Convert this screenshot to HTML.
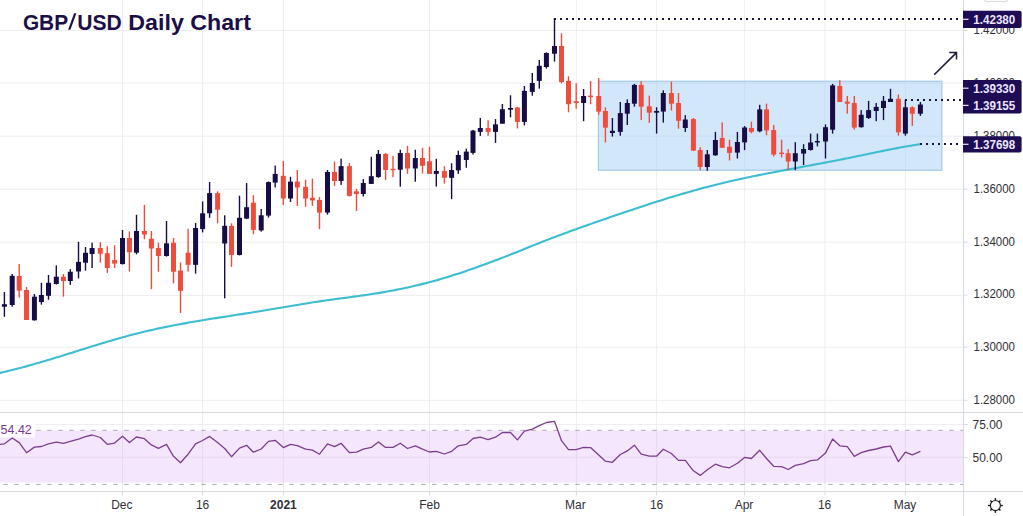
<!DOCTYPE html>
<html><head><meta charset="utf-8"><style>
html,body{margin:0;padding:0;background:#fff;width:1023px;height:516px;overflow:hidden;position:relative}
</style></head><body>
<svg width="1023" height="516" viewBox="0 0 1023 516" style="position:absolute;left:0;top:0">
<line x1="0" y1="30.5" x2="963.5" y2="30.5" stroke="#eeeef2" stroke-width="1"/>
<line x1="0" y1="83.1" x2="963.5" y2="83.1" stroke="#eeeef2" stroke-width="1"/>
<line x1="0" y1="136.2" x2="963.5" y2="136.2" stroke="#eeeef2" stroke-width="1"/>
<line x1="0" y1="189.2" x2="963.5" y2="189.2" stroke="#eeeef2" stroke-width="1"/>
<line x1="0" y1="242.2" x2="963.5" y2="242.2" stroke="#eeeef2" stroke-width="1"/>
<line x1="0" y1="295.4" x2="963.5" y2="295.4" stroke="#eeeef2" stroke-width="1"/>
<line x1="0" y1="347.2" x2="963.5" y2="347.2" stroke="#eeeef2" stroke-width="1"/>
<line x1="0" y1="400.3" x2="963.5" y2="400.3" stroke="#eeeef2" stroke-width="1"/>
<line x1="122.5" y1="0" x2="122.5" y2="491.5" stroke="#eeeef2" stroke-width="1"/>
<line x1="202.6" y1="0" x2="202.6" y2="491.5" stroke="#eeeef2" stroke-width="1"/>
<line x1="283.4" y1="0" x2="283.4" y2="491.5" stroke="#eeeef2" stroke-width="1"/>
<line x1="429.5" y1="0" x2="429.5" y2="491.5" stroke="#eeeef2" stroke-width="1"/>
<line x1="576.4" y1="0" x2="576.4" y2="491.5" stroke="#eeeef2" stroke-width="1"/>
<line x1="656.6" y1="0" x2="656.6" y2="491.5" stroke="#eeeef2" stroke-width="1"/>
<line x1="744.6" y1="0" x2="744.6" y2="491.5" stroke="#eeeef2" stroke-width="1"/>
<line x1="825.0" y1="0" x2="825.0" y2="491.5" stroke="#eeeef2" stroke-width="1"/>
<line x1="905.4" y1="0" x2="905.4" y2="491.5" stroke="#eeeef2" stroke-width="1"/>
<rect x="598.3" y="81.2" width="343.6" height="89" fill="#d3e7fb" stroke="#94c3e6" stroke-width="1"/>
<line x1="598.8" y1="83.1" x2="941.5" y2="83.1" stroke="#c8def4" stroke-width="1"/>
<line x1="598.8" y1="136.2" x2="941.5" y2="136.2" stroke="#c8def4" stroke-width="1"/>
<line x1="656.6" y1="81.7" x2="656.6" y2="169.7" stroke="#c8def4" stroke-width="1"/>
<line x1="744.6" y1="81.7" x2="744.6" y2="169.7" stroke="#c8def4" stroke-width="1"/>
<line x1="825.0" y1="81.7" x2="825.0" y2="169.7" stroke="#c8def4" stroke-width="1"/>
<line x1="905.4" y1="81.7" x2="905.4" y2="169.7" stroke="#c8def4" stroke-width="1"/>
<polyline points="0.0,372.87 3.0,372.19 6.0,371.50 9.0,370.78 12.0,370.05 15.0,369.29 18.0,368.52 21.0,367.74 24.0,366.94 27.0,366.12 30.0,365.29 33.0,364.44 36.0,363.59 39.0,362.72 42.0,361.84 45.0,360.95 48.0,360.05 51.0,359.15 54.0,358.24 57.0,357.32 60.0,356.40 63.0,355.47 66.0,354.53 69.0,353.60 72.0,352.66 75.0,351.72 78.0,350.79 81.0,349.85 84.0,348.91 87.0,347.98 90.0,347.05 93.0,346.12 96.0,345.20 99.0,344.28 102.0,343.37 105.0,342.47 108.0,341.57 111.0,340.69 114.0,339.81 117.0,338.95 120.0,338.09 123.0,337.25 126.0,336.42 129.0,335.61 132.0,334.81 135.0,334.03 138.0,333.26 141.0,332.51 144.0,331.78 147.0,331.07 150.0,330.37 153.0,329.69 156.0,329.03 159.0,328.38 162.0,327.74 165.0,327.12 168.0,326.52 171.0,325.92 174.0,325.34 177.0,324.76 180.0,324.20 183.0,323.65 186.0,323.11 189.0,322.58 192.0,322.05 195.0,321.54 198.0,321.03 201.0,320.53 204.0,320.03 207.0,319.54 210.0,319.06 213.0,318.58 216.0,318.10 219.0,317.63 222.0,317.16 225.0,316.69 228.0,316.22 231.0,315.75 234.0,315.29 237.0,314.82 240.0,314.35 243.0,313.89 246.0,313.41 249.0,312.94 252.0,312.46 255.0,311.98 258.0,311.50 261.0,311.01 264.0,310.51 267.0,310.01 270.0,309.51 273.0,309.00 276.0,308.49 279.0,307.98 282.0,307.47 285.0,306.97 288.0,306.46 291.0,305.95 294.0,305.45 297.0,304.95 300.0,304.45 303.0,303.96 306.0,303.47 309.0,302.99 312.0,302.52 315.0,302.06 318.0,301.61 321.0,301.16 324.0,300.73 327.0,300.30 330.0,299.88 333.0,299.47 336.0,299.06 339.0,298.66 342.0,298.25 345.0,297.85 348.0,297.45 351.0,297.04 354.0,296.64 357.0,296.22 360.0,295.80 363.0,295.38 366.0,294.95 369.0,294.50 372.0,294.05 375.0,293.58 378.0,293.10 381.0,292.61 384.0,292.10 387.0,291.57 390.0,291.03 393.0,290.47 396.0,289.89 399.0,289.30 402.0,288.68 405.0,288.05 408.0,287.41 411.0,286.74 414.0,286.05 417.0,285.35 420.0,284.63 423.0,283.88 426.0,283.12 429.0,282.34 432.0,281.54 435.0,280.71 438.0,279.87 441.0,279.00 444.0,278.11 447.0,277.21 450.0,276.28 453.0,275.33 456.0,274.37 459.0,273.39 462.0,272.39 465.0,271.38 468.0,270.35 471.0,269.31 474.0,268.25 477.0,267.19 480.0,266.11 483.0,265.02 486.0,263.92 489.0,262.81 492.0,261.70 495.0,260.57 498.0,259.43 501.0,258.28 504.0,257.12 507.0,255.96 510.0,254.78 513.0,253.60 516.0,252.41 519.0,251.20 522.0,250.00 525.0,248.78 528.0,247.56 531.0,246.34 534.0,245.13 537.0,243.92 540.0,242.72 543.0,241.54 546.0,240.36 549.0,239.20 552.0,238.05 555.0,236.91 558.0,235.78 561.0,234.66 564.0,233.55 567.0,232.45 570.0,231.35 573.0,230.27 576.0,229.19 579.0,228.11 582.0,227.05 585.0,225.98 588.0,224.93 591.0,223.87 594.0,222.82 597.0,221.78 600.0,220.73 603.0,219.69 606.0,218.65 609.0,217.61 612.0,216.58 615.0,215.55 618.0,214.52 621.0,213.50 624.0,212.48 627.0,211.46 630.0,210.45 633.0,209.44 636.0,208.44 639.0,207.45 642.0,206.46 645.0,205.48 648.0,204.50 651.0,203.53 654.0,202.56 657.0,201.61 660.0,200.66 663.0,199.72 666.0,198.78 669.0,197.86 672.0,196.94 675.0,196.03 678.0,195.14 681.0,194.25 684.0,193.37 687.0,192.50 690.0,191.64 693.0,190.79 696.0,189.95 699.0,189.13 702.0,188.31 705.0,187.51 708.0,186.72 711.0,185.94 714.0,185.17 717.0,184.42 720.0,183.68 723.0,182.95 726.0,182.24 729.0,181.54 732.0,180.85 735.0,180.17 738.0,179.50 741.0,178.85 744.0,178.20 747.0,177.56 750.0,176.93 753.0,176.31 756.0,175.70 759.0,175.10 762.0,174.50 765.0,173.91 768.0,173.32 771.0,172.74 774.0,172.17 777.0,171.60 780.0,171.03 783.0,170.47 786.0,169.90 789.0,169.35 792.0,168.79 795.0,168.23 798.0,167.68 801.0,167.13 804.0,166.57 807.0,166.02 810.0,165.46 813.0,164.90 816.0,164.34 819.0,163.78 822.0,163.22 825.0,162.65 828.0,162.07 831.0,161.50 834.0,160.91 837.0,160.32 840.0,159.73 843.0,159.13 846.0,158.52 849.0,157.91 852.0,157.29 855.0,156.67 858.0,156.05 861.0,155.43 864.0,154.80 867.0,154.18 870.0,153.56 873.0,152.94 876.0,152.32 879.0,151.71 882.0,151.10 885.0,150.49 888.0,149.90 891.0,149.31 894.0,148.73 897.0,148.15 900.0,147.59 903.0,147.04 906.0,146.50 909.0,145.97 912.0,145.45 915.0,144.95 918.0,144.47 920.3,144.10" fill="none" stroke="#3dbdd0" stroke-width="2.1" stroke-linejoin="round" stroke-linecap="round"/>
<rect x="3.70" y="292.0" width="1.4" height="24.80" fill="#170c45"/>
<rect x="1.90" y="304.2" width="5" height="2.50" fill="#170c45"/>
<rect x="11.50" y="274.0" width="1.4" height="32.70" fill="#170c45"/>
<rect x="9.70" y="275.8" width="5" height="29.20" fill="#170c45"/>
<rect x="18.50" y="264.0" width="1.4" height="33.60" fill="#ef4d3b"/>
<rect x="16.70" y="276.0" width="5" height="14.60" fill="#ef4d3b"/>
<rect x="25.80" y="287.0" width="1.4" height="33.00" fill="#ef4d3b"/>
<rect x="24.00" y="290.0" width="5" height="30.00" fill="#ef4d3b"/>
<rect x="33.70" y="294.0" width="1.4" height="26.60" fill="#170c45"/>
<rect x="31.90" y="296.7" width="5" height="23.60" fill="#170c45"/>
<rect x="40.70" y="282.8" width="1.4" height="21.80" fill="#170c45"/>
<rect x="38.90" y="295.0" width="5" height="7.00" fill="#170c45"/>
<rect x="47.80" y="275.0" width="1.4" height="24.70" fill="#170c45"/>
<rect x="46.00" y="282.8" width="5" height="13.00" fill="#170c45"/>
<rect x="55.60" y="265.4" width="1.4" height="19.10" fill="#170c45"/>
<rect x="53.80" y="276.7" width="5" height="7.30" fill="#170c45"/>
<rect x="62.70" y="274.0" width="1.4" height="22.70" fill="#ef4d3b"/>
<rect x="60.90" y="276.7" width="5" height="4.30" fill="#ef4d3b"/>
<rect x="69.60" y="269.2" width="1.4" height="15.70" fill="#170c45"/>
<rect x="67.80" y="271.8" width="5" height="9.20" fill="#170c45"/>
<rect x="77.80" y="241.8" width="1.4" height="36.60" fill="#170c45"/>
<rect x="76.00" y="261.9" width="5" height="9.60" fill="#170c45"/>
<rect x="84.80" y="247.0" width="1.4" height="23.60" fill="#170c45"/>
<rect x="83.00" y="252.8" width="5" height="9.90" fill="#170c45"/>
<rect x="91.40" y="242.7" width="1.4" height="25.30" fill="#170c45"/>
<rect x="89.60" y="248.0" width="5" height="6.00" fill="#170c45"/>
<rect x="99.60" y="242.2" width="1.4" height="20.50" fill="#ef4d3b"/>
<rect x="97.80" y="248.0" width="5" height="5.70" fill="#ef4d3b"/>
<rect x="106.60" y="246.2" width="1.4" height="26.70" fill="#ef4d3b"/>
<rect x="104.80" y="253.2" width="5" height="14.80" fill="#ef4d3b"/>
<rect x="113.90" y="245.3" width="1.4" height="22.70" fill="#ef4d3b"/>
<rect x="112.10" y="260.1" width="5" height="3.50" fill="#ef4d3b"/>
<rect x="121.80" y="230.0" width="1.4" height="34.50" fill="#170c45"/>
<rect x="120.00" y="238.0" width="5" height="26.10" fill="#170c45"/>
<rect x="128.70" y="231.4" width="1.4" height="40.10" fill="#ef4d3b"/>
<rect x="126.90" y="238.0" width="5" height="14.30" fill="#ef4d3b"/>
<rect x="135.80" y="214.8" width="1.4" height="39.50" fill="#170c45"/>
<rect x="134.00" y="231.0" width="5" height="21.70" fill="#170c45"/>
<rect x="143.70" y="204.8" width="1.4" height="34.40" fill="#ef4d3b"/>
<rect x="141.90" y="231.0" width="5" height="3.50" fill="#ef4d3b"/>
<rect x="150.70" y="231.0" width="1.4" height="58.20" fill="#ef4d3b"/>
<rect x="148.90" y="238.7" width="5" height="9.80" fill="#ef4d3b"/>
<rect x="157.70" y="242.7" width="1.4" height="29.00" fill="#ef4d3b"/>
<rect x="155.90" y="248.0" width="5" height="8.00" fill="#ef4d3b"/>
<rect x="165.80" y="221.0" width="1.4" height="35.60" fill="#170c45"/>
<rect x="164.00" y="243.4" width="5" height="12.60" fill="#170c45"/>
<rect x="172.80" y="238.0" width="1.4" height="45.40" fill="#ef4d3b"/>
<rect x="171.00" y="242.7" width="5" height="29.00" fill="#ef4d3b"/>
<rect x="179.80" y="262.4" width="1.4" height="50.60" fill="#ef4d3b"/>
<rect x="178.00" y="270.6" width="5" height="20.20" fill="#ef4d3b"/>
<rect x="187.40" y="228.7" width="1.4" height="43.00" fill="#ef4d3b"/>
<rect x="185.60" y="252.7" width="5" height="12.10" fill="#ef4d3b"/>
<rect x="194.90" y="222.9" width="1.4" height="50.70" fill="#170c45"/>
<rect x="193.10" y="228.0" width="5" height="36.80" fill="#170c45"/>
<rect x="201.90" y="201.4" width="1.4" height="31.00" fill="#170c45"/>
<rect x="200.10" y="213.3" width="5" height="15.80" fill="#170c45"/>
<rect x="208.90" y="182.0" width="1.4" height="35.80" fill="#170c45"/>
<rect x="207.10" y="193.1" width="5" height="20.20" fill="#170c45"/>
<rect x="216.90" y="191.4" width="1.4" height="31.90" fill="#ef4d3b"/>
<rect x="215.10" y="193.1" width="5" height="16.60" fill="#ef4d3b"/>
<rect x="224.00" y="215.3" width="1.4" height="83.00" fill="#170c45"/>
<rect x="222.20" y="225.8" width="5" height="17.70" fill="#170c45"/>
<rect x="230.80" y="223.3" width="1.4" height="43.60" fill="#ef4d3b"/>
<rect x="229.00" y="225.8" width="5" height="29.20" fill="#ef4d3b"/>
<rect x="238.80" y="195.7" width="1.4" height="59.80" fill="#170c45"/>
<rect x="237.00" y="217.8" width="5" height="37.20" fill="#170c45"/>
<rect x="245.90" y="183.0" width="1.4" height="36.00" fill="#170c45"/>
<rect x="244.10" y="207.2" width="5" height="11.40" fill="#170c45"/>
<rect x="252.70" y="195.2" width="1.4" height="39.00" fill="#ef4d3b"/>
<rect x="250.90" y="202.7" width="5" height="27.20" fill="#ef4d3b"/>
<rect x="260.50" y="209.0" width="1.4" height="22.60" fill="#170c45"/>
<rect x="258.70" y="215.3" width="5" height="15.10" fill="#170c45"/>
<rect x="267.80" y="181.5" width="1.4" height="36.10" fill="#170c45"/>
<rect x="266.00" y="182.1" width="5" height="33.50" fill="#170c45"/>
<rect x="274.50" y="165.6" width="1.4" height="21.90" fill="#170c45"/>
<rect x="272.70" y="173.9" width="5" height="8.70" fill="#170c45"/>
<rect x="282.60" y="160.9" width="1.4" height="44.00" fill="#ef4d3b"/>
<rect x="280.80" y="175.8" width="5" height="22.70" fill="#ef4d3b"/>
<rect x="289.80" y="176.8" width="1.4" height="25.20" fill="#170c45"/>
<rect x="288.00" y="181.6" width="5" height="16.90" fill="#170c45"/>
<rect x="296.60" y="170.0" width="1.4" height="35.90" fill="#ef4d3b"/>
<rect x="294.80" y="181.6" width="5" height="5.90" fill="#ef4d3b"/>
<rect x="304.90" y="179.7" width="1.4" height="27.10" fill="#ef4d3b"/>
<rect x="303.10" y="186.9" width="5" height="11.60" fill="#ef4d3b"/>
<rect x="311.70" y="178.7" width="1.4" height="27.20" fill="#ef4d3b"/>
<rect x="309.90" y="197.7" width="5" height="2.70" fill="#ef4d3b"/>
<rect x="318.80" y="197.1" width="1.4" height="32.00" fill="#ef4d3b"/>
<rect x="317.00" y="200.0" width="5" height="12.60" fill="#ef4d3b"/>
<rect x="326.80" y="170.0" width="1.4" height="44.60" fill="#170c45"/>
<rect x="325.00" y="172.0" width="5" height="40.60" fill="#170c45"/>
<rect x="333.80" y="161.6" width="1.4" height="24.30" fill="#ef4d3b"/>
<rect x="332.00" y="171.9" width="5" height="9.10" fill="#ef4d3b"/>
<rect x="340.40" y="158.7" width="1.4" height="26.20" fill="#170c45"/>
<rect x="338.60" y="166.1" width="5" height="14.90" fill="#170c45"/>
<rect x="348.70" y="163.0" width="1.4" height="33.50" fill="#ef4d3b"/>
<rect x="346.90" y="166.1" width="5" height="29.80" fill="#ef4d3b"/>
<rect x="355.80" y="188.8" width="1.4" height="22.20" fill="#ef4d3b"/>
<rect x="354.00" y="191.3" width="5" height="2.70" fill="#ef4d3b"/>
<rect x="362.60" y="179.1" width="1.4" height="17.40" fill="#170c45"/>
<rect x="360.80" y="183.0" width="5" height="11.00" fill="#170c45"/>
<rect x="370.60" y="156.8" width="1.4" height="27.10" fill="#170c45"/>
<rect x="368.80" y="176.2" width="5" height="7.70" fill="#170c45"/>
<rect x="377.70" y="150.0" width="1.4" height="27.70" fill="#170c45"/>
<rect x="375.90" y="153.9" width="5" height="23.20" fill="#170c45"/>
<rect x="384.90" y="152.9" width="1.4" height="27.10" fill="#ef4d3b"/>
<rect x="383.10" y="153.9" width="5" height="16.10" fill="#ef4d3b"/>
<rect x="392.30" y="155.8" width="1.4" height="21.30" fill="#ef4d3b"/>
<rect x="390.50" y="168.8" width="5" height="1.40" fill="#ef4d3b"/>
<rect x="399.60" y="149.7" width="1.4" height="36.90" fill="#170c45"/>
<rect x="397.80" y="153.0" width="5" height="16.70" fill="#170c45"/>
<rect x="406.80" y="145.8" width="1.4" height="28.00" fill="#ef4d3b"/>
<rect x="405.00" y="153.0" width="5" height="15.50" fill="#ef4d3b"/>
<rect x="414.60" y="149.7" width="1.4" height="32.00" fill="#170c45"/>
<rect x="412.80" y="158.0" width="5" height="10.50" fill="#170c45"/>
<rect x="421.80" y="147.8" width="1.4" height="25.70" fill="#ef4d3b"/>
<rect x="420.00" y="158.0" width="5" height="7.80" fill="#ef4d3b"/>
<rect x="428.80" y="146.8" width="1.4" height="27.10" fill="#ef4d3b"/>
<rect x="427.00" y="161.3" width="5" height="12.60" fill="#ef4d3b"/>
<rect x="435.60" y="158.8" width="1.4" height="27.70" fill="#170c45"/>
<rect x="433.80" y="171.0" width="5" height="2.90" fill="#170c45"/>
<rect x="443.70" y="166.2" width="1.4" height="17.40" fill="#ef4d3b"/>
<rect x="441.90" y="171.0" width="5" height="6.80" fill="#ef4d3b"/>
<rect x="450.90" y="163.3" width="1.4" height="35.80" fill="#170c45"/>
<rect x="449.10" y="170.0" width="5" height="7.80" fill="#170c45"/>
<rect x="457.60" y="150.7" width="1.4" height="23.20" fill="#170c45"/>
<rect x="455.80" y="155.0" width="5" height="15.40" fill="#170c45"/>
<rect x="465.60" y="148.7" width="1.4" height="19.00" fill="#170c45"/>
<rect x="463.80" y="151.6" width="5" height="8.40" fill="#170c45"/>
<rect x="472.30" y="129.9" width="1.4" height="24.60" fill="#170c45"/>
<rect x="470.50" y="130.6" width="5" height="22.30" fill="#170c45"/>
<rect x="479.60" y="117.9" width="1.4" height="18.00" fill="#170c45"/>
<rect x="477.80" y="128.0" width="5" height="3.90" fill="#170c45"/>
<rect x="487.40" y="120.2" width="1.4" height="15.70" fill="#ef4d3b"/>
<rect x="485.60" y="128.0" width="5" height="3.90" fill="#ef4d3b"/>
<rect x="494.80" y="119.1" width="1.4" height="23.80" fill="#170c45"/>
<rect x="493.00" y="124.4" width="5" height="7.50" fill="#170c45"/>
<rect x="501.70" y="104.0" width="1.4" height="19.70" fill="#170c45"/>
<rect x="499.90" y="109.2" width="5" height="14.50" fill="#170c45"/>
<rect x="509.80" y="95.3" width="1.4" height="22.10" fill="#170c45"/>
<rect x="508.00" y="108.0" width="5" height="1.70" fill="#170c45"/>
<rect x="516.70" y="107.0" width="1.4" height="21.40" fill="#ef4d3b"/>
<rect x="514.90" y="107.5" width="5" height="14.40" fill="#ef4d3b"/>
<rect x="523.70" y="86.0" width="1.4" height="39.40" fill="#170c45"/>
<rect x="521.90" y="90.9" width="5" height="31.00" fill="#170c45"/>
<rect x="531.60" y="73.0" width="1.4" height="22.70" fill="#170c45"/>
<rect x="529.80" y="83.0" width="5" height="8.90" fill="#170c45"/>
<rect x="538.60" y="60.0" width="1.4" height="28.60" fill="#170c45"/>
<rect x="536.80" y="65.8" width="5" height="15.10" fill="#170c45"/>
<rect x="545.70" y="52.3" width="1.4" height="16.30" fill="#170c45"/>
<rect x="543.90" y="53.0" width="5" height="14.00" fill="#170c45"/>
<rect x="553.80" y="18.1" width="1.4" height="43.50" fill="#170c45"/>
<rect x="552.00" y="46.0" width="5" height="7.70" fill="#170c45"/>
<rect x="560.80" y="33.3" width="1.4" height="50.00" fill="#ef4d3b"/>
<rect x="559.00" y="46.0" width="5" height="36.10" fill="#ef4d3b"/>
<rect x="567.80" y="76.3" width="1.4" height="36.00" fill="#ef4d3b"/>
<rect x="566.00" y="80.9" width="5" height="23.30" fill="#ef4d3b"/>
<rect x="575.50" y="83.3" width="1.4" height="25.50" fill="#ef4d3b"/>
<rect x="573.70" y="101.2" width="5" height="1.80" fill="#ef4d3b"/>
<rect x="582.90" y="89.0" width="1.4" height="32.20" fill="#170c45"/>
<rect x="581.10" y="96.0" width="5" height="7.00" fill="#170c45"/>
<rect x="589.90" y="81.0" width="1.4" height="23.20" fill="#ef4d3b"/>
<rect x="588.10" y="95.6" width="5" height="1.60" fill="#ef4d3b"/>
<rect x="598.00" y="78.1" width="1.4" height="36.60" fill="#ef4d3b"/>
<rect x="596.20" y="96.0" width="5" height="15.60" fill="#ef4d3b"/>
<rect x="604.70" y="107.3" width="1.4" height="35.20" fill="#ef4d3b"/>
<rect x="602.90" y="111.0" width="5" height="16.60" fill="#ef4d3b"/>
<rect x="611.70" y="118.0" width="1.4" height="18.60" fill="#170c45"/>
<rect x="609.90" y="130.8" width="5" height="2.20" fill="#170c45"/>
<rect x="619.60" y="102.0" width="1.4" height="33.70" fill="#170c45"/>
<rect x="617.80" y="113.1" width="5" height="18.80" fill="#170c45"/>
<rect x="626.60" y="99.4" width="1.4" height="25.60" fill="#170c45"/>
<rect x="624.80" y="103.0" width="5" height="10.70" fill="#170c45"/>
<rect x="633.70" y="83.9" width="1.4" height="22.80" fill="#170c45"/>
<rect x="631.90" y="84.9" width="5" height="18.80" fill="#170c45"/>
<rect x="640.50" y="81.1" width="1.4" height="39.00" fill="#ef4d3b"/>
<rect x="638.70" y="84.9" width="5" height="21.80" fill="#ef4d3b"/>
<rect x="648.60" y="95.6" width="1.4" height="27.30" fill="#ef4d3b"/>
<rect x="646.80" y="106.3" width="5" height="6.40" fill="#ef4d3b"/>
<rect x="655.90" y="107.3" width="1.4" height="26.30" fill="#170c45"/>
<rect x="654.10" y="111.0" width="5" height="1.70" fill="#170c45"/>
<rect x="662.60" y="90.3" width="1.4" height="32.30" fill="#170c45"/>
<rect x="660.80" y="93.0" width="5" height="18.60" fill="#170c45"/>
<rect x="670.70" y="81.7" width="1.4" height="28.80" fill="#ef4d3b"/>
<rect x="668.90" y="93.0" width="5" height="10.70" fill="#ef4d3b"/>
<rect x="677.80" y="93.0" width="1.4" height="35.70" fill="#ef4d3b"/>
<rect x="676.00" y="103.0" width="5" height="17.80" fill="#ef4d3b"/>
<rect x="684.60" y="115.2" width="1.4" height="16.70" fill="#170c45"/>
<rect x="682.80" y="119.5" width="5" height="8.50" fill="#170c45"/>
<rect x="692.70" y="118.0" width="1.4" height="33.00" fill="#ef4d3b"/>
<rect x="690.90" y="119.1" width="5" height="31.50" fill="#ef4d3b"/>
<rect x="699.50" y="147.2" width="1.4" height="23.10" fill="#ef4d3b"/>
<rect x="697.70" y="150.0" width="5" height="17.00" fill="#ef4d3b"/>
<rect x="706.60" y="150.0" width="1.4" height="20.70" fill="#170c45"/>
<rect x="704.80" y="154.3" width="5" height="12.70" fill="#170c45"/>
<rect x="714.70" y="131.9" width="1.4" height="23.90" fill="#170c45"/>
<rect x="712.90" y="140.0" width="5" height="15.30" fill="#170c45"/>
<rect x="721.50" y="122.4" width="1.4" height="25.50" fill="#ef4d3b"/>
<rect x="719.70" y="138.0" width="5" height="9.80" fill="#ef4d3b"/>
<rect x="728.80" y="139.7" width="1.4" height="20.80" fill="#ef4d3b"/>
<rect x="727.00" y="146.8" width="5" height="6.10" fill="#ef4d3b"/>
<rect x="736.70" y="131.9" width="1.4" height="26.60" fill="#170c45"/>
<rect x="734.90" y="142.0" width="5" height="10.60" fill="#170c45"/>
<rect x="743.90" y="126.1" width="1.4" height="24.00" fill="#170c45"/>
<rect x="742.10" y="127.5" width="5" height="14.90" fill="#170c45"/>
<rect x="750.70" y="121.6" width="1.4" height="11.70" fill="#ef4d3b"/>
<rect x="748.90" y="128.0" width="5" height="3.90" fill="#ef4d3b"/>
<rect x="759.00" y="104.8" width="1.4" height="27.50" fill="#170c45"/>
<rect x="757.20" y="109.4" width="5" height="21.90" fill="#170c45"/>
<rect x="765.80" y="103.6" width="1.4" height="31.60" fill="#ef4d3b"/>
<rect x="764.00" y="109.4" width="5" height="21.00" fill="#ef4d3b"/>
<rect x="773.00" y="124.9" width="1.4" height="31.60" fill="#ef4d3b"/>
<rect x="771.20" y="130.0" width="5" height="24.60" fill="#ef4d3b"/>
<rect x="780.90" y="139.7" width="1.4" height="17.80" fill="#ef4d3b"/>
<rect x="779.10" y="152.6" width="5" height="1.40" fill="#ef4d3b"/>
<rect x="787.50" y="149.1" width="1.4" height="21.00" fill="#ef4d3b"/>
<rect x="785.70" y="153.2" width="5" height="8.30" fill="#ef4d3b"/>
<rect x="794.60" y="142.2" width="1.4" height="27.90" fill="#170c45"/>
<rect x="792.80" y="153.2" width="5" height="8.30" fill="#170c45"/>
<rect x="802.90" y="144.2" width="1.4" height="20.80" fill="#170c45"/>
<rect x="801.10" y="149.0" width="5" height="4.60" fill="#170c45"/>
<rect x="809.90" y="133.6" width="1.4" height="17.00" fill="#170c45"/>
<rect x="808.10" y="142.5" width="5" height="7.50" fill="#170c45"/>
<rect x="816.70" y="133.6" width="1.4" height="12.80" fill="#170c45"/>
<rect x="814.90" y="141.0" width="5" height="1.50" fill="#170c45"/>
<rect x="824.80" y="124.4" width="1.4" height="34.10" fill="#170c45"/>
<rect x="823.00" y="127.2" width="5" height="14.30" fill="#170c45"/>
<rect x="831.90" y="83.9" width="1.4" height="49.70" fill="#170c45"/>
<rect x="830.10" y="85.4" width="5" height="44.30" fill="#170c45"/>
<rect x="839.10" y="80.2" width="1.4" height="21.80" fill="#ef4d3b"/>
<rect x="837.30" y="86.0" width="5" height="16.00" fill="#ef4d3b"/>
<rect x="846.60" y="96.0" width="1.4" height="17.70" fill="#ef4d3b"/>
<rect x="844.80" y="101.6" width="5" height="2.10" fill="#ef4d3b"/>
<rect x="853.60" y="96.0" width="1.4" height="33.70" fill="#ef4d3b"/>
<rect x="851.80" y="103.0" width="5" height="24.60" fill="#ef4d3b"/>
<rect x="860.50" y="110.1" width="1.4" height="17.50" fill="#170c45"/>
<rect x="858.70" y="114.8" width="5" height="12.40" fill="#170c45"/>
<rect x="867.90" y="100.9" width="1.4" height="18.10" fill="#170c45"/>
<rect x="866.10" y="110.1" width="5" height="7.90" fill="#170c45"/>
<rect x="875.50" y="103.0" width="1.4" height="18.20" fill="#170c45"/>
<rect x="873.70" y="106.9" width="5" height="4.10" fill="#170c45"/>
<rect x="882.80" y="96.0" width="1.4" height="24.10" fill="#170c45"/>
<rect x="881.00" y="100.9" width="5" height="7.10" fill="#170c45"/>
<rect x="889.80" y="88.8" width="1.4" height="13.20" fill="#170c45"/>
<rect x="888.00" y="98.8" width="5" height="3.20" fill="#170c45"/>
<rect x="897.70" y="94.5" width="1.4" height="41.20" fill="#ef4d3b"/>
<rect x="895.90" y="98.8" width="5" height="33.50" fill="#ef4d3b"/>
<rect x="904.70" y="99.9" width="1.4" height="35.80" fill="#170c45"/>
<rect x="902.90" y="107.3" width="5" height="26.30" fill="#170c45"/>
<rect x="911.60" y="106.3" width="1.4" height="19.60" fill="#ef4d3b"/>
<rect x="909.80" y="107.3" width="5" height="6.40" fill="#ef4d3b"/>
<rect x="919.70" y="102.0" width="1.4" height="13.90" fill="#170c45"/>
<rect x="917.90" y="104.5" width="5" height="9.20" fill="#170c45"/>
<line x1="554" y1="19" x2="962" y2="19" stroke="#1a1436" stroke-width="2" stroke-dasharray="2 4"/>
<line x1="905" y1="100" x2="962" y2="100" stroke="#1a1436" stroke-width="2" stroke-dasharray="2 4"/>
<line x1="920" y1="144" x2="962" y2="144" stroke="#1a1436" stroke-width="2" stroke-dasharray="2 4"/>
<path d="M934.2 74.8 L956.5 52.6 M949.3 52.6 L956.5 52.6 L956.5 59.4" fill="none" stroke="#1c1838" stroke-width="1.5" stroke-linecap="butt"/>
<rect x="0" y="430.6" width="963.5" height="52" fill="#f4e6fd"/>
<line x1="0" y1="424.4" x2="963.5" y2="424.4" stroke="#eeeef2" stroke-width="1"/>
<line x1="0" y1="457.2" x2="963.5" y2="457.2" stroke="#e6d8f0" stroke-width="1"/>
<line x1="122.5" y1="430.3" x2="122.5" y2="484.2" stroke="#e6d8f0" stroke-width="1"/>
<line x1="202.6" y1="430.3" x2="202.6" y2="484.2" stroke="#e6d8f0" stroke-width="1"/>
<line x1="283.4" y1="430.3" x2="283.4" y2="484.2" stroke="#e6d8f0" stroke-width="1"/>
<line x1="429.5" y1="430.3" x2="429.5" y2="484.2" stroke="#e6d8f0" stroke-width="1"/>
<line x1="576.4" y1="430.3" x2="576.4" y2="484.2" stroke="#e6d8f0" stroke-width="1"/>
<line x1="656.6" y1="430.3" x2="656.6" y2="484.2" stroke="#e6d8f0" stroke-width="1"/>
<line x1="744.6" y1="430.3" x2="744.6" y2="484.2" stroke="#e6d8f0" stroke-width="1"/>
<line x1="825.0" y1="430.3" x2="825.0" y2="484.2" stroke="#e6d8f0" stroke-width="1"/>
<line x1="905.4" y1="430.3" x2="905.4" y2="484.2" stroke="#e6d8f0" stroke-width="1"/>
<line x1="-7.8" y1="430.3" x2="963.5" y2="430.3" stroke="#a9a9b1" stroke-width="1" stroke-dasharray="4.5 6.5"/>
<line x1="-7.8" y1="484.4" x2="963.5" y2="484.4" stroke="#a9a9b1" stroke-width="1" stroke-dasharray="4.5 6.5"/>
<rect x="0" y="419" width="35" height="18.5" fill="#ffffff" fill-opacity="0.85"/>
<polyline points="0,444.3 4.4,443.8 12.2,438.0 19.2,442.6 26.5,452.7 34.4,447.1 41.4,446.5 48.5,443.8 56.3,442.2 63.4,443.4 70.3,441.4 78.5,439.2 85.5,436.7 92.1,435.0 100.3,437.5 107.3,444.3 114.6,443.1 122.5,436.3 129.4,442.6 136.5,437.0 144.4,438.7 151.4,444.9 158.4,448.3 166.5,444.4 173.5,456.3 180.5,462.7 188.1,454.2 195.6,443.9 202.6,440.5 209.6,436.4 217.6,442.6 224.7,448.5 231.5,456.7 239.5,448.1 246.6,445.3 253.4,452.2 261.2,449.0 268.5,441.4 275.2,440.3 283.3,447.6 290.5,444.4 297.3,445.6 305.6,449.2 312.4,450.1 319.5,454.2 327.5,443.9 334.5,446.7 341.1,443.3 349.4,452.6 356.5,452.2 363.3,449.2 371.3,447.4 378.4,441.9 385.6,447.4 393.0,447.4 400.3,443.2 407.5,448.5 415.3,445.8 422.5,449.2 429.5,452.0 436.3,451.3 444.4,454.0 451.6,451.3 458.3,445.8 466.3,444.4 473.0,438.5 480.3,437.2 488.1,439.6 495.5,437.2 502.4,432.5 510.5,432.5 517.4,439.9 524.4,431.1 532.3,429.2 539.3,425.7 546.4,422.5 554.5,421.3 561.5,440.7 568.5,449.6 576.2,449.6 583.6,447.3 590.6,447.6 598.7,455.0 605.4,461.2 612.4,462.3 620.3,454.5 627.3,450.9 634.4,445.2 641.2,454.1 649.3,456.2 656.6,456.2 663.3,449.2 671.4,453.5 678.5,460.4 685.3,460.4 693.4,470.8 700.2,475.4 707.3,469.7 715.4,464.2 722.2,466.7 729.5,467.8 737.4,463.2 744.6,457.4 751.4,458.5 759.7,450.3 766.5,458.5 773.7,466.3 781.6,466.7 788.2,469.5 795.3,465.4 803.6,463.6 810.6,460.6 817.4,459.9 825.5,453.1 832.6,439.0 839.8,445.8 847.3,446.6 854.3,456.4 861.2,452.6 868.6,450.5 876.2,449.0 883.5,447.0 890.5,446.1 898.4,461.6 905.4,452.2 912.3,454.9 920.4,451.4" fill="none" stroke="#7c3e8e" stroke-width="1.3" stroke-linejoin="round"/>
<line x1="0" y1="412.5" x2="1023" y2="412.5" stroke="#d9d9e0" stroke-width="1"/>
<line x1="0" y1="491.5" x2="1023" y2="491.5" stroke="#d9d9e0" stroke-width="1"/>
<line x1="963.5" y1="0" x2="963.5" y2="516" stroke="#d9d9e0" stroke-width="1"/>
<line x1="963.5" y1="30.5" x2="967.5" y2="30.5" stroke="#d9d9e0" stroke-width="1"/>
<text x="973.5" y="33.9" font-family="'Liberation Sans', sans-serif" font-size="12" fill="#303036" textLength="41.5" lengthAdjust="spacingAndGlyphs">1.42000</text>
<line x1="963.5" y1="83.1" x2="967.5" y2="83.1" stroke="#d9d9e0" stroke-width="1"/>
<text x="973.5" y="86.5" font-family="'Liberation Sans', sans-serif" font-size="12" fill="#303036" textLength="41.5" lengthAdjust="spacingAndGlyphs">1.40000</text>
<line x1="963.5" y1="136.2" x2="967.5" y2="136.2" stroke="#d9d9e0" stroke-width="1"/>
<text x="973.5" y="139.6" font-family="'Liberation Sans', sans-serif" font-size="12" fill="#303036" textLength="41.5" lengthAdjust="spacingAndGlyphs">1.38000</text>
<line x1="963.5" y1="189.2" x2="967.5" y2="189.2" stroke="#d9d9e0" stroke-width="1"/>
<text x="973.5" y="192.6" font-family="'Liberation Sans', sans-serif" font-size="12" fill="#303036" textLength="41.5" lengthAdjust="spacingAndGlyphs">1.36000</text>
<line x1="963.5" y1="242.2" x2="967.5" y2="242.2" stroke="#d9d9e0" stroke-width="1"/>
<text x="973.5" y="245.6" font-family="'Liberation Sans', sans-serif" font-size="12" fill="#303036" textLength="41.5" lengthAdjust="spacingAndGlyphs">1.34000</text>
<line x1="963.5" y1="295.0" x2="967.5" y2="295.0" stroke="#d9d9e0" stroke-width="1"/>
<text x="973.5" y="298.4" font-family="'Liberation Sans', sans-serif" font-size="12" fill="#303036" textLength="41.5" lengthAdjust="spacingAndGlyphs">1.32000</text>
<line x1="963.5" y1="347.2" x2="967.5" y2="347.2" stroke="#d9d9e0" stroke-width="1"/>
<text x="973.5" y="350.59999999999997" font-family="'Liberation Sans', sans-serif" font-size="12" fill="#303036" textLength="41.5" lengthAdjust="spacingAndGlyphs">1.30000</text>
<line x1="963.5" y1="400.3" x2="967.5" y2="400.3" stroke="#d9d9e0" stroke-width="1"/>
<text x="973.5" y="403.7" font-family="'Liberation Sans', sans-serif" font-size="12" fill="#303036" textLength="41.5" lengthAdjust="spacingAndGlyphs">1.28000</text>
<line x1="963.5" y1="424.4" x2="967.5" y2="424.4" stroke="#d9d9e0" stroke-width="1"/>
<text x="972.6" y="428.59999999999997" font-family="'Liberation Sans', sans-serif" font-size="12" fill="#303036" textLength="29.8" lengthAdjust="spacingAndGlyphs">75.00</text>
<line x1="963.5" y1="457.6" x2="967.5" y2="457.6" stroke="#d9d9e0" stroke-width="1"/>
<text x="972.6" y="461.8" font-family="'Liberation Sans', sans-serif" font-size="12" fill="#303036" textLength="29.8" lengthAdjust="spacingAndGlyphs">50.00</text>
<path d="M963 10.8 H1019.6 Q1021.6 10.8 1021.6 12.8 V26.0 Q1021.6 28.0 1019.6 28.0 H963 Z" fill="#1e0c54"/>
<line x1="963" y1="19.3" x2="968.5" y2="19.3" stroke="#ece6ff" stroke-width="1.2"/>
<text x="973.3" y="23.8" font-family="'Liberation Sans', sans-serif" font-size="12.5" font-weight="bold" fill="#ece6ff" textLength="42" lengthAdjust="spacingAndGlyphs">1.42380</text>
<path d="M963 80.1 H1019.6 Q1021.6 80.1 1021.6 82.1 V111.5 Q1021.6 113.5 1019.6 113.5 H963 Z" fill="#1e0c54"/>
<line x1="963" y1="88.2" x2="968.5" y2="88.2" stroke="#ece6ff" stroke-width="1.2"/>
<text x="973.3" y="92.7" font-family="'Liberation Sans', sans-serif" font-size="12.5" font-weight="bold" fill="#ece6ff" textLength="42" lengthAdjust="spacingAndGlyphs">1.39330</text>
<line x1="963" y1="105.4" x2="968.5" y2="105.4" stroke="#ece6ff" stroke-width="1.2"/>
<text x="973.3" y="109.9" font-family="'Liberation Sans', sans-serif" font-size="12.5" font-weight="bold" fill="#ece6ff" textLength="42" lengthAdjust="spacingAndGlyphs">1.39155</text>
<path d="M963 136.3 H1019.6 Q1021.6 136.3 1021.6 138.3 V150.4 Q1021.6 152.4 1019.6 152.4 H963 Z" fill="#1e0c54"/>
<line x1="963" y1="144.3" x2="968.5" y2="144.3" stroke="#ece6ff" stroke-width="1.2"/>
<text x="973.3" y="148.8" font-family="'Liberation Sans', sans-serif" font-size="12.5" font-weight="bold" fill="#ece6ff" textLength="42" lengthAdjust="spacingAndGlyphs">1.37698</text>
<line x1="122.5" y1="491.5" x2="122.5" y2="495.5" stroke="#d9d9e0" stroke-width="1"/>
<line x1="202.6" y1="491.5" x2="202.6" y2="495.5" stroke="#d9d9e0" stroke-width="1"/>
<line x1="283.4" y1="491.5" x2="283.4" y2="495.5" stroke="#d9d9e0" stroke-width="1"/>
<line x1="429.5" y1="491.5" x2="429.5" y2="495.5" stroke="#d9d9e0" stroke-width="1"/>
<line x1="576.4" y1="491.5" x2="576.4" y2="495.5" stroke="#d9d9e0" stroke-width="1"/>
<line x1="656.6" y1="491.5" x2="656.6" y2="495.5" stroke="#d9d9e0" stroke-width="1"/>
<line x1="744.6" y1="491.5" x2="744.6" y2="495.5" stroke="#d9d9e0" stroke-width="1"/>
<line x1="825.0" y1="491.5" x2="825.0" y2="495.5" stroke="#d9d9e0" stroke-width="1"/>
<line x1="905.4" y1="491.5" x2="905.4" y2="495.5" stroke="#d9d9e0" stroke-width="1"/>
<text x="121.8" y="508.8" font-family="'Liberation Sans', sans-serif" font-size="12" font-weight="normal" fill="#303036" text-anchor="middle">Dec</text>
<text x="202.6" y="508.8" font-family="'Liberation Sans', sans-serif" font-size="12" font-weight="normal" fill="#303036" text-anchor="middle">16</text>
<text x="283.4" y="508.8" font-family="'Liberation Sans', sans-serif" font-size="12" font-weight="bold" fill="#303036" text-anchor="middle">2021</text>
<text x="429.5" y="508.8" font-family="'Liberation Sans', sans-serif" font-size="12" font-weight="normal" fill="#303036" text-anchor="middle">Feb</text>
<text x="575.4" y="508.8" font-family="'Liberation Sans', sans-serif" font-size="12" font-weight="normal" fill="#303036" text-anchor="middle">Mar</text>
<text x="656.6" y="508.8" font-family="'Liberation Sans', sans-serif" font-size="12" font-weight="normal" fill="#303036" text-anchor="middle">16</text>
<text x="744.0" y="508.8" font-family="'Liberation Sans', sans-serif" font-size="12" font-weight="normal" fill="#303036" text-anchor="middle">Apr</text>
<text x="824.6" y="508.8" font-family="'Liberation Sans', sans-serif" font-size="12" font-weight="normal" fill="#303036" text-anchor="middle">16</text>
<text x="905.0" y="508.8" font-family="'Liberation Sans', sans-serif" font-size="12" font-weight="normal" fill="#303036" text-anchor="middle">May</text>
<text x="0.5" y="434" font-family="'Liberation Sans', sans-serif" font-size="12.5" fill="#7b3a8c">54.42</text>
<circle cx="995.4" cy="505.5" r="5" fill="none" stroke="#1a1a1a" stroke-width="1.15"/>
<line x1="1000.40" y1="505.50" x2="1002.80" y2="505.50" stroke="#1a1a1a" stroke-width="1.4"/>
<line x1="998.94" y1="509.04" x2="1000.42" y2="510.52" stroke="#1a1a1a" stroke-width="1.4"/>
<line x1="995.40" y1="510.50" x2="995.40" y2="512.90" stroke="#1a1a1a" stroke-width="1.4"/>
<line x1="991.86" y1="509.04" x2="990.38" y2="510.52" stroke="#1a1a1a" stroke-width="1.4"/>
<line x1="990.40" y1="505.50" x2="988.00" y2="505.50" stroke="#1a1a1a" stroke-width="1.4"/>
<line x1="991.86" y1="501.96" x2="990.38" y2="500.48" stroke="#1a1a1a" stroke-width="1.4"/>
<line x1="995.40" y1="500.50" x2="995.40" y2="498.10" stroke="#1a1a1a" stroke-width="1.4"/>
<line x1="998.94" y1="501.96" x2="1000.42" y2="500.48" stroke="#1a1a1a" stroke-width="1.4"/>
<text x="22.9" y="29.6" font-family="'Liberation Sans', sans-serif" font-size="22" font-weight="bold" fill="#1c0f47" textLength="45.2" lengthAdjust="spacingAndGlyphs">GBP</text>
<path d="M68.1 29.7 L70.4 29.7 L76.4 13.2 L74.1 13.2 Z" fill="#1c0f47"/>
<text x="77.3" y="29.6" font-family="'Liberation Sans', sans-serif" font-size="22" font-weight="bold" fill="#1c0f47" textLength="44.4" lengthAdjust="spacingAndGlyphs">USD</text>
<text x="128.3" y="29.6" font-family="'Liberation Sans', sans-serif" font-size="22" font-weight="bold" fill="#1c0f47" textLength="122.6" lengthAdjust="spacingAndGlyphs">Daily Chart</text>
<rect x="983.9" y="-8" width="24.2" height="9.4" rx="2" fill="#fff" stroke="#d6d6dc" stroke-width="1"/>
</svg>
</body></html>
